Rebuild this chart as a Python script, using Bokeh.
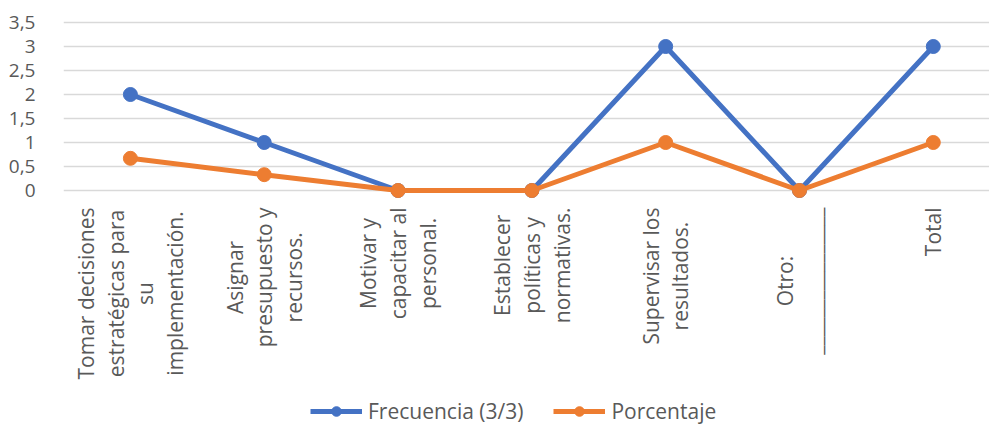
import math

from bokeh.embed import file_html
from bokeh.models import FixedTicker, Label, Legend, LegendItem, Range1d
from bokeh.plotting import figure
from bokeh.resources import INLINE

# Categories (multi-line labels) and the two series
categorias = [
    "Tomar decisiones\nestratégicas para\nsu\nimplementación.",
    "Asignar\npresupuesto y\nrecursos.",
    "Motivar y\ncapacitar al\npersonal.",
    "Establecer\npolíticas y\nnormativas.",
    "Supervisar los\nresultados.",
    "Otro:\n________________",
    "Total",
]
frecuencia = [2, 1, 0, 0, 3, 0, 3]
porcentaje = [0.67, 0.33, 0, 0, 1, 0, 1]

y_ticks = [0, 0.5, 1, 1.5, 2, 2.5, 3, 3.5]
y_tick_labels = ["0", "0,5", "1", "1,5", "2", "2,5", "3", "3,5"]

AZUL = "#4472C4"
NARANJA = "#ED7D31"
TEXTO = "#595959"
FUENTE = "Open Sans"

x = list(range(len(categorias)))

# The frame covers the whole canvas height so that the rotated category
# labels and the legend, drawn below zero, are not clipped.
p = figure(
    width=989,
    height=425,
    output_backend="svg",
    toolbar_location=None,
    x_axis_type=None,
    x_range=Range1d(-0.5, 6.42),
    y_range=Range1d(-235 / 48, 3.75),
    min_border_left=63,
    min_border_right=0,
    min_border_top=10,
    min_border_bottom=0,
)
p.outline_line_color = None
p.background_fill_color = "white"
p.border_fill_color = "white"

# Y axis: comma decimals, no line or ticks
yax = p.yaxis[0]
yax.ticker = FixedTicker(ticks=y_ticks)
yax.major_label_overrides = {t: s for t, s in zip(y_ticks, y_tick_labels)}
yax.axis_line_color = None
yax.major_tick_line_color = None
yax.minor_tick_line_color = None
yax.major_label_standoff = 22
yax.major_label_text_font = FUENTE
yax.major_label_text_font_size = "19px"
yax.major_label_text_color = TEXTO

p.ygrid.grid_line_color = "#d9d9d9"
p.ygrid.grid_line_width = 1.3

# Series
l1 = p.line(x, frecuencia, line_color=AZUL, line_width=5)
s1 = p.scatter(x, frecuencia, size=14, fill_color=AZUL, line_color=AZUL)
l2 = p.line(x, porcentaje, line_color=NARANJA, line_width=5)
s2 = p.scatter(x, porcentaje, size=14, fill_color=NARANJA, line_color=NARANJA)

# Rotated category labels under the zero line
y_top_labels = -17 / 48
for i, txt in enumerate(categorias):
    p.add_layout(Label(
        x=i, y=y_top_labels,
        text=txt,
        angle=math.pi / 2,
        anchor="center_right",
        text_align="center",
        text_font=FUENTE,
        text_font_size="21px",
        text_color=TEXTO,
        text_line_height=1.06,
    ))

legend = Legend(
    items=[
        LegendItem(label="Frecuencia (3/3)", renderers=[l1, s1]),
        LegendItem(label="Porcentaje", renderers=[l2, s2]),
    ],
    orientation="horizontal",
    location=(247, 0),
    padding=0,
    margin=0,
    spacing=30,
    glyph_width=52,
    glyph_height=24,
    label_standoff=6,
    label_text_font=FUENTE,
    label_text_font_size="21px",
    label_text_color=TEXTO,
    border_line_color=None,
    background_fill_alpha=0,
)
p.add_layout(legend, "center")

open("out.html", "w").write(file_html(p, INLINE))
